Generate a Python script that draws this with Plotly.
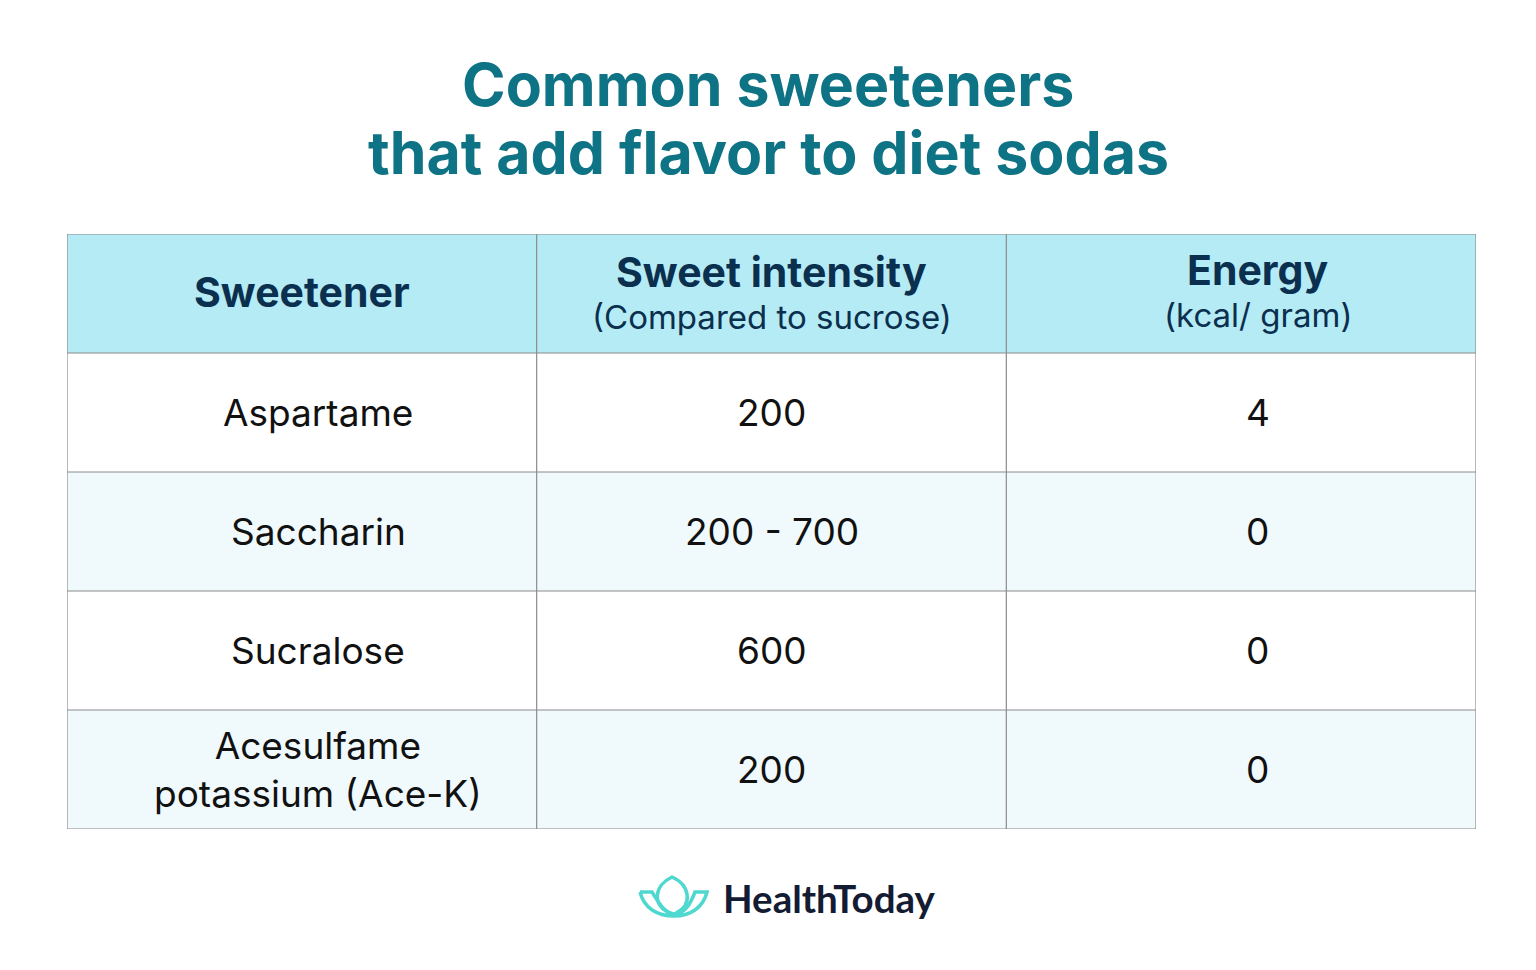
import plotly.graph_objects as go

W, H = 1536, 970
title_lines = ["Common sweeteners", "that add flavor to diet sodas"]
headers = ["Sweetener", "Sweet intensity", "Energy"]
subheaders = ["", "(Compared to sucrose)", "(kcal/ gram)"]
sweeteners = ["Aspartame", "Saccharin", "Sucralose", "Acesulfame<br>potassium (Ace-K)"]
intensity = ["200", "200 - 700", "600", "200"]
energy = ["4", "0", "0", "0"]
brand = "HealthToday"

OFF = 8
def px(x): return (x - OFF) / W
def py(y): return 1 - (y - OFF) / H

fig = go.Figure()
fig.update_layout(width=W, height=H, margin=dict(l=0, r=0, t=0, b=0),
                  paper_bgcolor="white", plot_bgcolor="white", showlegend=False,
                  xaxis=dict(domain=[px(67), px(1476)], range=[0, 3], visible=False, fixedrange=True),
                  yaxis=dict(domain=[py(829), py(234)], range=[5, 0], visible=False, fixedrange=True))

shapes = []
nrows = len(sweeteners) + 1
for r in range(nrows):
    fill = "#b5ebf5" if r == 0 else ("#ffffff" if r % 2 == 1 else "#f0f9fc")
    shapes.append(dict(type="rect", xref="x", yref="y", x0=0, x1=3, y0=r, y1=r + 1,
                       fillcolor=fill, line=dict(width=0), layer="below"))
for r in range(nrows + 1):
    shapes.append(dict(type="line", xref="x", yref="y", x0=0, x1=3, y0=r, y1=r,
                       line=dict(color="#8c8c8c", width=1.2)))
for c in range(4):
    shapes.append(dict(type="line", xref="x", yref="y", x0=c, x1=c, y0=0, y1=nrows,
                       line=dict(color="#8c8c8c", width=1.2)))

anns = []
for i, t in enumerate(title_lines):
    anns.append(dict(text=f"<b>{t}</b>", x=px(768), y=py([85, 152][i]), xref="paper", yref="paper",
                     showarrow=False, font=dict(family="Inter", size=59, color="#0e7384"),
                     xanchor="center", yanchor="middle"))
hdr_color = "#0b2f4e"
hdr_x = [0.50, 0.50, 0.535]
body_x = [0.535, 0.50, 0.535]
hdr_y = [0.49, 0.32, 0.30]
sub_y = [0, 0.70, 0.68]
for c in range(3):
    anns.append(dict(text=f"<b>{headers[c]}</b>", x=c + hdr_x[c], y=hdr_y[c], xref="x", yref="y",
                     showarrow=False, font=dict(family="Inter", size=41, color=hdr_color),
                     xanchor="center", yanchor="middle"))
    if subheaders[c]:
        anns.append(dict(text=subheaders[c], x=c + hdr_x[c], y=sub_y[c], xref="x", yref="y",
                         showarrow=False, font=dict(family="Inter", size=33, color=hdr_color),
                         xanchor="center", yanchor="middle"))
cols = [sweeteners, intensity, energy]
for c, col in enumerate(cols):
    for r, v in enumerate(col):
        anns.append(dict(text=v, x=c + body_x[c], y=r + 1.5, xref="x", yref="y", showarrow=False,
                         font=dict(family="Inter", size=37, color="#111111"), align="center",
                         xanchor="center", yanchor="middle"))

anns.append(dict(text=f"<b>{brand}</b>", x=px(721), y=py(898), xref="paper", yref="paper",
                 showarrow=False, xanchor="left", yanchor="middle",
                 font=dict(family="Lato", size=38.5, color="#131c33")))

teal = "#4fd8cf"
petal = (f"M {px(672)},{py(914)} C {px(650)},{py(905)} {px(655)},{py(885)} {px(672)},{py(877)} "
         f"C {px(690)},{py(885)} {px(693)},{py(905)} {px(676)},{py(913)}")
bowl = (f"M {px(640)},{py(892)} L {px(652)},{py(892)} C {px(660)},{py(905)} {px(665)},{py(913)} {px(674)},{py(914)} "
        f"C {px(685)},{py(913)} {px(690)},{py(905)} {px(695)},{py(892)} L {px(707)},{py(892)} "
        f"C {px(703)},{py(908)} {px(690)},{py(916)} {px(674)},{py(916)} "
        f"C {px(657)},{py(916)} {px(644)},{py(908)} {px(640)},{py(892)}")
shapes.append(dict(type="path", xref="paper", yref="paper", path=petal,
                   line=dict(color=teal, width=3.5)))
shapes.append(dict(type="path", xref="paper", yref="paper", path=bowl,
                   line=dict(color=teal, width=3.5)))

fig.update_layout(shapes=shapes, annotations=anns)
fig.write_html("out.html")
